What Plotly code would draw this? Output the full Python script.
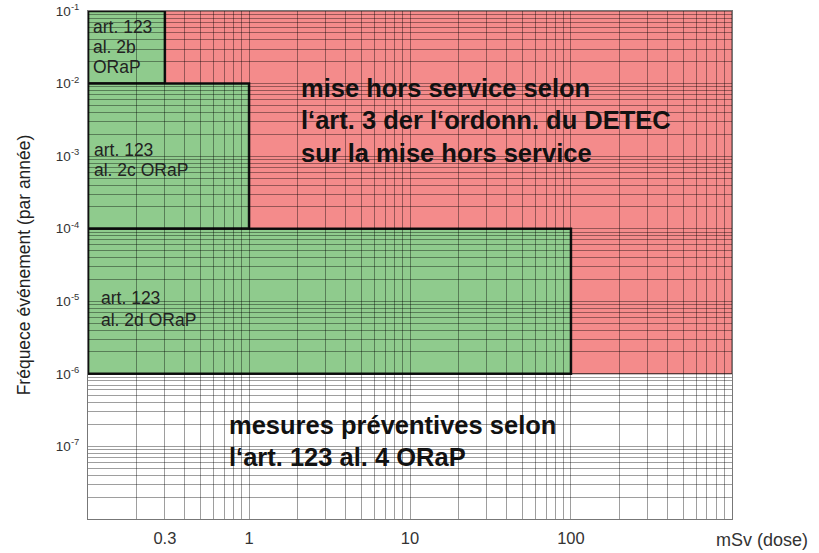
import plotly.graph_objects as go

# Regions (dose mSv, frequency per year)
region_names = ["mise hors service", "al. 2b", "al. 2c", "al. 2d"]
region_x0 = [0.1, 0.1, 0.1, 0.1]
region_x1 = [1000, 0.3, 1, 100]
region_y0 = [1e-6, 1e-2, 1e-4, 1e-6]
region_y1 = [1e-1, 1e-1, 1e-2, 1e-4]
region_fill = ["#F48B8B", "#8FCB8D", "#8FCB8D", "#8FCB8D"]
region_line = ["#5a3a3a", "#111111", "#111111", "#111111"]
region_lw = [1, 2.5, 2.5, 2.5]

# axis ticks
x_decades = [0.1, 1, 10, 100]
x_labeled = {0.3: "0.3", 1: "1", 10: "10", 100: "100"}
y_decades = [-8, -7, -6, -5, -4, -3, -2]
y_labeled = [-1, -2, -3, -4, -5, -6, -7]

x_tickvals = []
for d in x_decades:
    for m in range(1, 10):
        x_tickvals.append(round(d * m, 6))
x_tickvals.append(1000)
x_ticktext = [x_labeled.get(v, "") for v in x_tickvals]

y_tickvals = []
y_ticktext = []
for e in y_decades:
    for m in range(1, 10):
        v = m * 10.0 ** e
        y_tickvals.append(v)
        y_ticktext.append(f"10<sup>{e}</sup>" if (m == 1 and e in y_labeled) else "")
y_tickvals.append(1e-1)
y_ticktext.append("10<sup>-1</sup>")

# page layout (body margin removed below, figure fills the window)
L, R, T, B = 88, 732, 11, 519
W, H = 819, 553

def px(xp):
    return (xp - L) / (R - L)

def py(yp):
    return (B - yp) / (B - T)

fig = go.Figure()
fig.add_trace(go.Scatter(x=[0.1, 1000], y=[1e-8, 1e-1], mode="markers",
                         marker=dict(opacity=0), hoverinfo="skip", showlegend=False))

for i in range(len(region_names)):
    fig.add_shape(type="rect", xref="x", yref="y",
                  x0=region_x0[i], x1=region_x1[i], y0=region_y0[i], y1=region_y1[i],
                  fillcolor=region_fill[i], line=dict(color=region_line[i], width=region_lw[i]),
                  layer="below")

FONT = "Liberation Sans, Arial, Helvetica, sans-serif"
small = dict(family=FONT, size=17.5, color="#222")
big = dict(family=FONT, size=25.5, color="#111")

ann = [
    ("art. 123", 91, 27, small), ("al. 2b", 91, 47, small), ("ORaP", 91, 67, small),
    ("art. 123", 92, 150, small), ("al. 2c ORaP", 92, 170, small),
    ("art. 123", 99, 298, small), ("al. 2d ORaP", 99, 320, small),
    ("<b>mise hors service selon</b>", 299, 88, big),
    ("<b>l\u2018art. 3 der l\u2018ordonn. du DETEC</b>", 299, 120, big),
    ("<b>sur la mise hors service</b>", 299, 153, big),
    ("<b>mesures préventives selon</b>", 227, 425, big),
    ("<b>l\u2018art. 123 al. 4 ORaP</b>", 227, 457, big),
]
for text, x, y, f in ann:
    fig.add_annotation(text=text, x=px(x), y=py(y), xref="paper", yref="paper",
                       xanchor="left", yanchor="middle", showarrow=False, font=f)

fig.add_annotation(text="mSv (dose)", x=px(762), y=py(540), xref="paper", yref="paper",
                   xanchor="center", yanchor="middle", showarrow=False,
                   font=dict(family=FONT, size=18, color="#333"))

fig.update_layout(
    width=W, height=H,
    margin=dict(l=L, r=W - R, t=T, b=H - B, pad=0),
    paper_bgcolor="white", plot_bgcolor="white",
    showlegend=False,
    xaxis=dict(type="log", range=[-1.0005, 3.0005], tickmode="array", tickvals=x_tickvals,
               ticktext=x_ticktext, showgrid=True, gridcolor="rgba(0,0,0,0.38)", gridwidth=1,
               showline=True, linecolor="#777", linewidth=1, mirror=True, ticks="",
               ticklabelstandoff=4, automargin=False, ticklabeloverflow="allow",
               tickfont=dict(family=FONT, size=16.5, color="#333"), zeroline=False),
    yaxis=dict(type="log", range=[-8.001, -0.999], tickmode="array", tickvals=y_tickvals,
               ticktext=y_ticktext, showgrid=True, gridcolor="rgba(0,0,0,0.38)", gridwidth=1,
               showline=True, linecolor="#777", linewidth=1, mirror=True, ticks="",
               ticklabelstandoff=5, automargin=False, ticklabeloverflow="allow",
               tickfont=dict(family=FONT, size=13.5, color="#333"), zeroline=False,
               title=dict(text="Fréquece événement (par année)", standoff=20,
                          font=dict(family=FONT, size=17.5, color="#222"))),
)

fig.write_html("out.html", config={"displayModeBar": False},
               post_script="document.body.style.margin='0';")
